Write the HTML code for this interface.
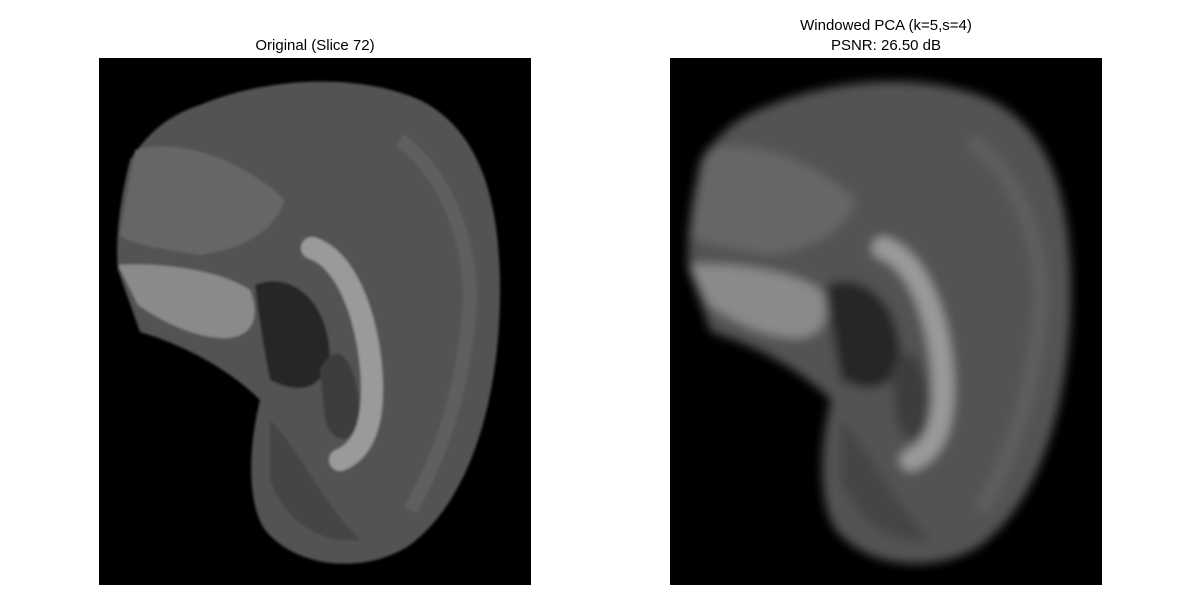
<!DOCTYPE html>
<html><head><meta charset="utf-8"><style>
html,body{margin:0;padding:0;background:#fff;width:1200px;height:600px;overflow:hidden}
text{font-family:"Liberation Sans","DejaVu Sans",sans-serif;font-size:15px;fill:#000}
</style></head><body>
<svg width="1200" height="600" viewBox="0 0 1200 600">
<defs>
<filter id="blur" x="-10%" y="-10%" width="120%" height="120%"><feGaussianBlur stdDeviation="5"/></filter>
<filter id="soft"><feGaussianBlur stdDeviation="1.2"/></filter>
<g id="brain">
<path d="M200,105 C260,80 350,70 420,100 C480,130 500,200 500,290 C500,400 470,500 410,545 C370,572 300,572 265,530 C245,500 250,440 260,400 C240,380 200,350 140,332 L118,270 C115,240 120,200 130,160 C150,130 170,115 200,105 Z" fill="#535353"/>
<path d="M135,150 C170,140 230,150 285,200 C270,240 230,250 200,255 C170,250 130,245 120,235 Z" fill="#666"/>
<path d="M118,265 C160,262 220,270 250,290 C262,320 250,340 220,338 C190,336 160,320 138,305 Z" fill="#8a8a8a"/>
<path d="M255,285 C290,270 330,300 330,360 C320,390 300,395 270,380 C262,340 258,310 255,285 Z" fill="#262626"/>
<path d="M320,370 C340,330 360,370 360,420 C350,450 330,440 325,420 Z" fill="#3e3e3e"/>
<path d="M312,248 C350,260 372,330 372,390 C372,430 360,452 340,460" stroke="#9a9a9a" stroke-width="22" fill="none" stroke-linecap="round"/>
<path d="M270,420 C300,450 320,500 360,540 C320,545 285,520 270,480 Z" fill="#444"/>
<path d="M400,140 C440,170 470,230 470,300 C465,380 445,450 410,510" stroke="#5e5e5e" stroke-width="14" fill="none"/>
</g>
</defs>
<text x="315" y="50" text-anchor="middle">Original (Slice 72)</text>
<rect x="99" y="58" width="432" height="527" fill="#000"/>
<g filter="url(#soft)"><use href="#brain"/></g>
<text x="886" y="30" text-anchor="middle">Windowed PCA (k=5,s=4)</text>
<text x="886" y="50" text-anchor="middle">PSNR: 26.50 dB</text>
<rect x="670" y="58" width="432" height="527" fill="#000"/>
<g transform="translate(571,0)" filter="url(#blur)"><use href="#brain"/></g>
</svg>
</body></html>
